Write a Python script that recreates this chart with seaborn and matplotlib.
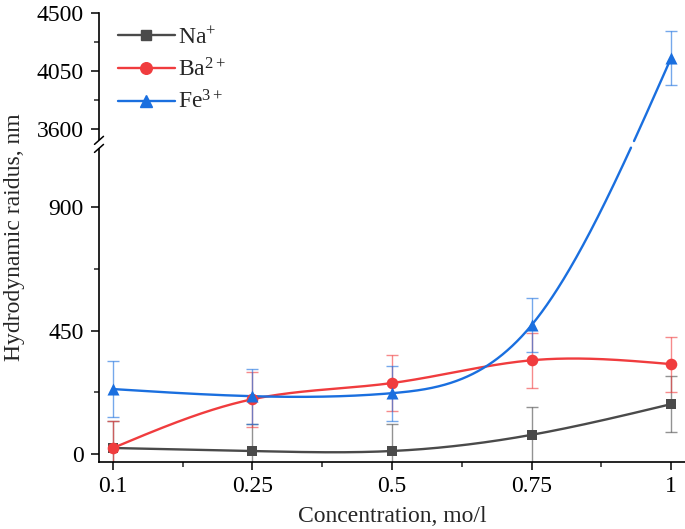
import numpy as np
import pandas as pd
import matplotlib
matplotlib.use("Agg")
import matplotlib.pyplot as plt
from matplotlib.lines import Line2D
from matplotlib.ticker import FixedLocator
import seaborn as sns

conc_labels = ["0.1", "0.25", "0.5", "0.75", "1"]
na = [22, 11, 11, 70, 182]
na_err = [100, 100, 100, 102, 102]
ba = [22, 200, 259, 342, 328]
ba_err = [98, 101, 101, 100, 100]
fe = [237, 211, 222, 470, 4150]
fe_err = [101, 100, 100, 99, 205]

y_major = [0, 450, 900, 3600, 4050, 4500]
y_minor = [225, 675, 3825, 4275]

# broken y axis: 0..1115 linear, short gap, then 3515..4500 squeezed
lo_top, hi_bot = 1115, 3515
k = 0.4728
s_hi = 1184.6 - (3600 - hi_bot) * k
brk_v = [-1e5, lo_top, hi_bot, 1e5]
brk_s = [-1e5, lo_top, s_hi, s_hi + (1e5 - hi_bot) * k]


def fwd(v):
    return np.interp(v, brk_v, brk_s)


def inv(s):
    return np.interp(s, brk_s, brk_v)


def spline(y, n=600):
    # natural cubic spline through the points, unit spacing
    y = np.asarray(y, float)
    m = len(y)
    A = np.zeros((m, m))
    r = np.zeros(m)
    A[0, 0] = A[-1, -1] = 1
    for i in range(1, m - 1):
        A[i, i - 1:i + 2] = [1, 4, 1]
        r[i] = 6 * (y[i + 1] - 2 * y[i] + y[i - 1])
    M = np.linalg.solve(A, r)
    xs, ys = [], []
    for i in range(m - 1):
        t = np.linspace(0, 1, n, endpoint=(i == m - 2))
        a = y[i] * (1 - t) + y[i + 1] * t
        c = (M[i] * ((1 - t) ** 3 - (1 - t)) + M[i + 1] * (t ** 3 - t)) / 6
        xs.append(i + t)
        ys.append(a + c)
    return np.concatenate(xs), np.concatenate(ys)


sns.set_style("ticks")
plt.rcParams["font.family"] = ["Liberation Serif", "DejaVu Serif"]
plt.rcParams["mathtext.fontset"] = "custom"
plt.rcParams["mathtext.rm"] = "Liberation Serif"
plt.rcParams["mathtext.it"] = "Liberation Serif"
plt.rcParams["mathtext.bf"] = "Liberation Serif:bold"

fs = 17
fig = plt.figure(figsize=(6.85, 5.29), dpi=100)
ax = fig.add_axes([99 / 685, 1 - 461.7 / 529, 586 / 685, 449 / 529])
ax.set_yscale("function", functions=(fwd, inv))
ax.set_ylim(-28, 4500)
ax.set_xlim(-0.1, 4.1)

series = [
    ("Na$^{+}$", na, na_err, "#4a4a4a", "s", 48),
    ("Ba$^{2+}$", ba, ba_err, "#f03c3e", "o", 70),
    ("Fe$^{3+}$", fe, fe_err, "#1a6fdf", "^", 75),
]
xi = np.arange(len(conc_labels))
handles = []
for lab, vals, err, col, mk, sz in series:
    xs, ss = spline(fwd(np.array(vals, float)))
    keep = (ss <= lo_top + 4) | (ss >= s_hi - 4)
    df = pd.DataFrame({"x": xs[keep], "y": inv(ss[keep]),
                       "seg": (ss[keep] >= s_hi - 4).astype(int)})
    sns.lineplot(data=df, x="x", y="y", units="seg", estimator=None,
                 sort=False, color=col, lw=1.7, ax=ax, zorder=3)
    ax.errorbar(xi, vals, yerr=err, fmt="none", ecolor=col, alpha=0.6,
                elinewidth=1.0, capsize=4, capthick=1.0, zorder=2)
    sns.scatterplot(x=xi, y=vals, marker=mk, s=sz, color=col,
                    edgecolor=col, linewidth=0, ax=ax, zorder=4)
    handles.append(Line2D([], [], color=col, lw=1.7, marker=mk,
                          ms=np.sqrt(sz), label=lab))

ax.set_xticks(xi)
ax.set_xticklabels(conc_labels)
ax.xaxis.set_minor_locator(FixedLocator(xi[:-1] + 0.5))
ax.yaxis.set_major_locator(FixedLocator(y_major))
ax.yaxis.set_minor_locator(FixedLocator(y_minor))
ax.set_yticklabels([str(v) for v in y_major])
ax.tick_params(which="major", length=6, width=1.1, labelsize=fs,
               colors="black")
ax.tick_params(axis="y", which="major", pad=5)
ax.tick_params(axis="x", which="major", pad=4)
ax.tick_params(which="minor", length=3.5, width=1.1)
for sp in ["left", "bottom"]:
    ax.spines[sp].set_linewidth(1.2)
    ax.spines[sp].set_color("black")
sns.despine(ax=ax)

ax.set_xlabel("Concentration, mo/l", fontsize=fs, labelpad=7)
ax.set_ylabel("Hydrodynamic raidus, nm", fontsize=fs)
ax.yaxis.set_label_coords(-0.127, 0.5)

# axis break marks on the left spine
s0, s1 = fwd(-28), fwd(4500)
f_lo = (fwd(lo_top) - s0) / (s1 - s0)
f_hi = (s_hi - s0) / (s1 - s0)
ax.plot([0, 0], [f_lo, f_hi], transform=ax.transAxes, color="white",
        lw=3, clip_on=False, zorder=10, solid_capstyle="butt")
dx, dy = 4.5 / 586, 4 / 449
for f in (f_lo, f_hi):
    ax.plot([-dx, dx], [f - dy, f + dy], transform=ax.transAxes,
            color="black", lw=1.1, clip_on=False, zorder=11)

ax.legend(handles=handles, loc="upper left", bbox_to_anchor=(0.0, 1.01),
          frameon=False, fontsize=fs, handlelength=2.4,
          handletextpad=0.15, labelspacing=0.4, borderaxespad=0.4)

fig.savefig("out.png", dpi=100)
